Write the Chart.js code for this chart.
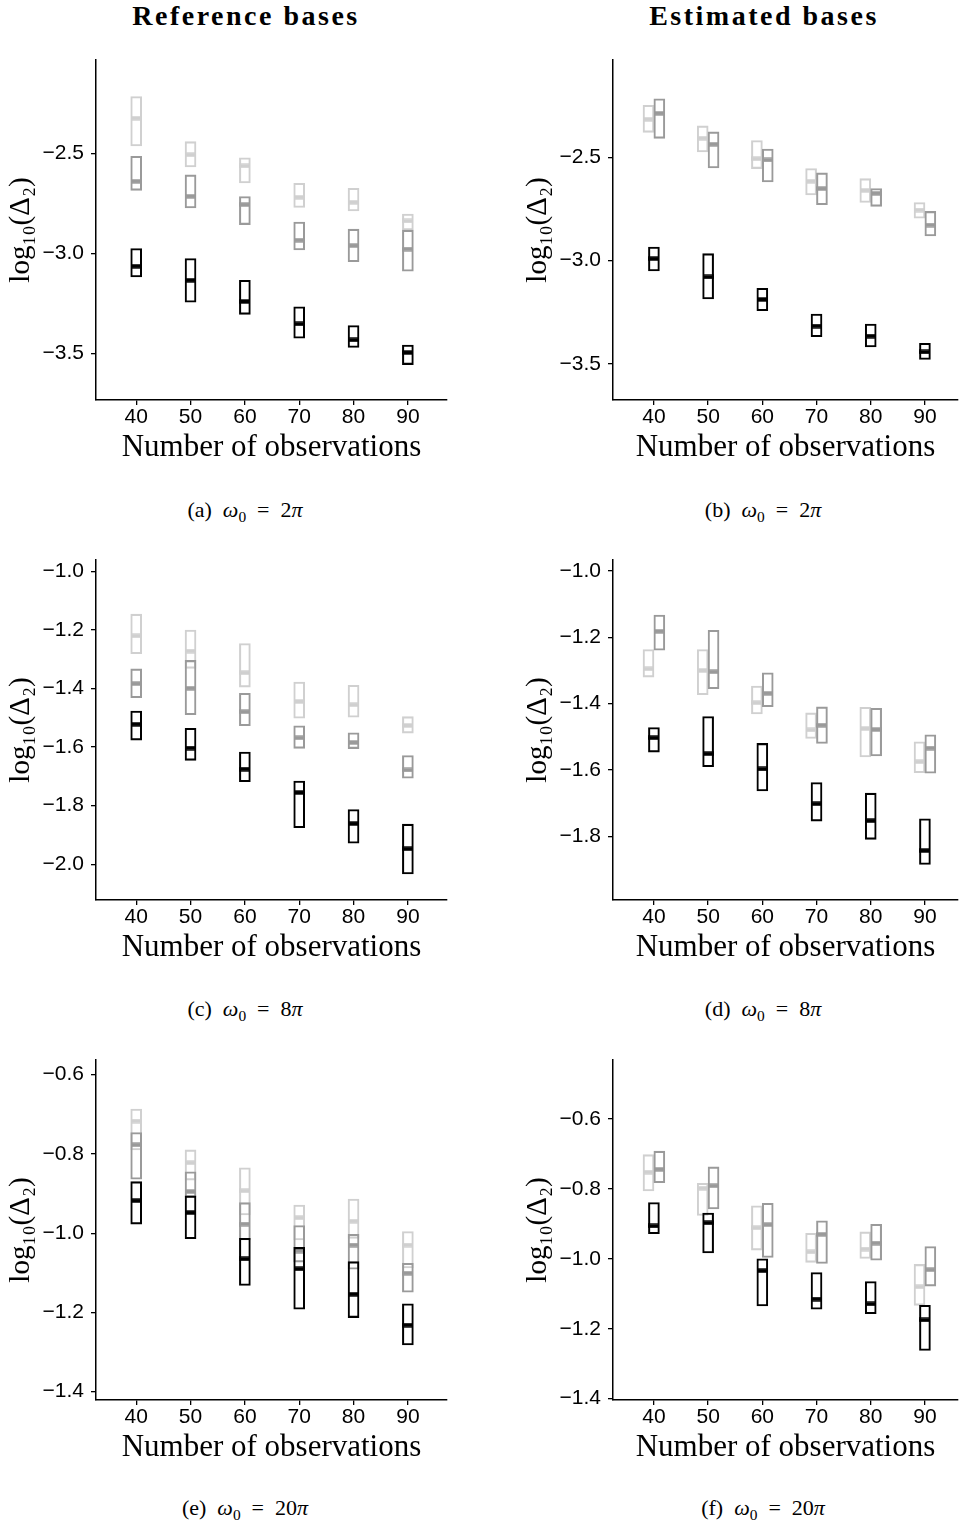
<!DOCTYPE html>
<html>
<head>
<meta charset="utf-8">
<script src="https://cdn.jsdelivr.net/npm/chart.js@4.4.1/dist/chart.umd.min.js"></script>
<style>
  body { margin: 0; background: #fff; width: 959px; height: 1524px; position: relative; overflow: hidden;
         font-family: "Liberation Serif", serif; color: #000; }
  canvas { position: absolute; }
  .head { position: absolute; top: 0; line-height: 32px; font-size: 28px; font-weight: bold;
          letter-spacing: 2.5px; transform: translateX(-50%); white-space: nowrap; }
  .cap { position: absolute; line-height: 24px; font-size: 22px; transform: translateX(-50%); white-space: nowrap; }
  .cap sub { font-size: 70%; vertical-align: -0.3em; line-height: 0; }
</style>
</head>
<body>

<div class="head" style="left:246px">Reference bases</div>
<div class="head" style="left:764px">Estimated bases</div>

<canvas id="pa" width="460" height="420" style="left:0;top:50px"></canvas>
<canvas id="pb" width="442" height="420" style="left:517px;top:50px"></canvas>
<canvas id="pc" width="460" height="420" style="left:0;top:550px"></canvas>
<canvas id="pd" width="442" height="420" style="left:517px;top:550px"></canvas>
<canvas id="pe" width="460" height="420" style="left:0;top:1050px"></canvas>
<canvas id="pf" width="442" height="420" style="left:517px;top:1050px"></canvas>

<div class="cap" style="left:245px;top:498px">(a)&nbsp; <i>ω</i><sub>0</sub>&nbsp; =&nbsp; 2<i>π</i></div>
<div class="cap" style="left:763px;top:498px">(b)&nbsp; <i>ω</i><sub>0</sub>&nbsp; =&nbsp; 2<i>π</i></div>
<div class="cap" style="left:245px;top:997px">(c)&nbsp; <i>ω</i><sub>0</sub>&nbsp; =&nbsp; 8<i>π</i></div>
<div class="cap" style="left:763px;top:997px">(d)&nbsp; <i>ω</i><sub>0</sub>&nbsp; =&nbsp; 8<i>π</i></div>
<div class="cap" style="left:245px;top:1496px">(e)&nbsp; <i>ω</i><sub>0</sub>&nbsp; =&nbsp; 20<i>π</i></div>
<div class="cap" style="left:763px;top:1496px">(f)&nbsp; <i>ω</i><sub>0</sub>&nbsp; =&nbsp; 20<i>π</i></div>

<script>
// number of observations (x categories)
const obs = [40, 50, 60, 70, 80, 90];

// y tick labels
const ticksAB = [-3.5, -3.0, -2.5];
const ticksC = [-2.0, -1.8, -1.6, -1.4, -1.2, -1.0];
const ticksD = [-1.8, -1.6, -1.4, -1.2, -1.0];
const ticksEF = [-1.4, -1.2, -1.0, -0.8, -0.6];

// (a) reference bases, w0 = 2pi
const aLightHi  = [-2.217, -2.442, -2.522, -2.650, -2.675, -2.803];
const aLightMed = [-2.325, -2.507, -2.563, -2.720, -2.745, -2.838];
const aLightLo  = [-2.463, -2.568, -2.648, -2.770, -2.788, -2.883];
const aMidHi    = [-2.515, -2.608, -2.716, -2.843, -2.879, -2.884];
const aMidMed   = [-2.640, -2.715, -2.756, -2.934, -2.961, -2.978];
const aMidLo    = [-2.685, -2.773, -2.856, -2.983, -3.041, -3.089];
const aDarkHi   = [-2.976, -3.026, -3.134, -3.267, -3.360, -3.458];
const aDarkMed  = [-3.064, -3.134, -3.240, -3.352, -3.432, -3.495];
const aDarkLo   = [-3.117, -3.244, -3.304, -3.423, -3.470, -3.555];

// (b) estimated bases, w0 = 2pi
const bLightHi  = [-2.246, -2.346, -2.417, -2.553, -2.602, -2.718];
const bLightMed = [-2.314, -2.406, -2.505, -2.615, -2.659, -2.754];
const bLightLo  = [-2.377, -2.472, -2.553, -2.681, -2.717, -2.794];
const bMidHi    = [-2.214, -2.375, -2.458, -2.574, -2.650, -2.761];
const bMidMed   = [-2.285, -2.435, -2.511, -2.650, -2.673, -2.827];
const bMidLo    = [-2.406, -2.550, -2.618, -2.728, -2.736, -2.880];
const bDarkHi   = [-2.934, -2.966, -3.134, -3.259, -3.307, -3.401];
const bDarkMed  = [-2.990, -3.079, -3.188, -3.317, -3.366, -3.443];
const bDarkLo   = [-3.050, -3.186, -3.243, -3.369, -3.419, -3.479];

// (c) reference bases, w0 = 8pi
const cLightHi  = [-1.146, -1.200, -1.246, -1.378, -1.389, -1.496];
const cLightMed = [-1.220, -1.272, -1.346, -1.444, -1.455, -1.526];
const cLightLo  = [-1.281, -1.331, -1.395, -1.501, -1.498, -1.552];
const cMidHi    = [-1.333, -1.304, -1.416, -1.527, -1.551, -1.629];
const cMidMed   = [-1.383, -1.399, -1.479, -1.568, -1.584, -1.678];
const cMidLo    = [-1.431, -1.489, -1.527, -1.604, -1.605, -1.706];
const cDarkHi   = [-1.477, -1.536, -1.617, -1.716, -1.813, -1.863];
const cDarkMed  = [-1.522, -1.603, -1.675, -1.755, -1.861, -1.947];
const cDarkLo   = [-1.576, -1.645, -1.718, -1.875, -1.928, -2.033];

// (d) estimated bases, w0 = 8pi
const dLightHi  = [-1.237, -1.237, -1.347, -1.428, -1.411, -1.515];
const dLightMed = [-1.295, -1.300, -1.397, -1.479, -1.475, -1.575];
const dLightLo  = [-1.320, -1.373, -1.431, -1.505, -1.561, -1.608];
const dMidHi    = [-1.133, -1.179, -1.307, -1.410, -1.414, -1.494];
const dMidMed   = [-1.182, -1.304, -1.369, -1.465, -1.478, -1.534];
const dMidLo    = [-1.239, -1.355, -1.409, -1.520, -1.558, -1.610];
const dDarkHi   = [-1.472, -1.439, -1.520, -1.638, -1.670, -1.747];
const dDarkMed  = [-1.503, -1.551, -1.597, -1.702, -1.753, -1.843];
const dDarkLo   = [-1.546, -1.590, -1.663, -1.754, -1.809, -1.885];

// (e) reference bases, w0 = 20pi
const eLightHi  = [-0.687, -0.790, -0.835, -0.929, -0.914, -0.996];
const eLightMed = [-0.717, -0.822, -0.893, -0.961, -0.970, -1.030];
const eLightLo  = [-0.790, -0.866, -0.954, -1.017, -1.013, -1.088];
const eMidHi    = [-0.746, -0.845, -0.923, -0.981, -1.003, -1.076];
const eMidMed   = [-0.777, -0.895, -0.977, -1.045, -1.030, -1.101];
const eMidLo    = [-0.864, -0.909, -1.017, -1.073, -1.091, -1.149];
const eDarkHi   = [-0.870, -0.906, -1.013, -1.036, -1.072, -1.178];
const eDarkMed  = [-0.918, -0.948, -1.065, -1.090, -1.154, -1.232];
const eDarkLo   = [-0.977, -1.014, -1.132, -1.192, -1.213, -1.282];

// (f) estimated bases, w0 = 20pi
const fLightHi  = [-0.702, -0.784, -0.848, -0.927, -0.923, -1.016];
const fLightMed = [-0.752, -0.798, -0.911, -0.980, -0.972, -1.080];
const fLightLo  = [-0.806, -0.876, -0.975, -1.010, -0.999, -1.133];
const fMidHi    = [-0.692, -0.737, -0.841, -0.891, -0.901, -0.965];
const fMidMed   = [-0.744, -0.791, -0.902, -0.930, -0.955, -1.031];
const fMidLo    = [-0.782, -0.857, -0.996, -1.013, -1.004, -1.078];
const fDarkHi   = [-0.839, -0.869, -1.000, -1.039, -1.065, -1.133];
const fDarkMed  = [-0.906, -0.897, -1.034, -1.115, -1.129, -1.175];
const fDarkLo   = [-0.928, -0.983, -1.135, -1.144, -1.157, -1.262];

const LIGHT = '#d0d0d0', MID = '#9a9a9a', DARK = '#000000';

// thick median bar used as the point style
function medianMark(color) {
  const c = document.createElement('canvas');
  c.width = 11; c.height = 5;
  const g = c.getContext('2d');
  g.fillStyle = color;
  g.fillRect(0, 0.3, 11, 4.4);
  return c;
}

// one floating bar (the box) + one scatter point (the median) per series
function boxSeries(lo, med, hi, color, shift) {
  return [{
    type: 'bar',
    data: obs.map((n, i) => ({ x: n + shift, y: [lo[i], hi[i]] })),
    grouped: false,
    barThickness: 11,
    borderWidth: 1.4,
    borderSkipped: false,
    borderColor: color,
    backgroundColor: 'rgba(0,0,0,0)'
  }, {
    type: 'scatter',
    data: obs.map((n, i) => ({ x: n + shift, y: med[i] })),
    pointStyle: medianMark(color),
    pointRadius: 5.5,
    pointHoverRadius: 5.5
  }];
}

function makePanel(id, p) {
  const ctx = document.getElementById(id).getContext('2d');
  return new Chart(ctx, {
    type: 'bar',
    data: {
      datasets: [
        ...boxSeries(p.dark[0], p.dark[1], p.dark[2], DARK, 0),
        ...boxSeries(p.mid[0], p.mid[1], p.mid[2], MID, p.dodge),
        ...boxSeries(p.light[0], p.light[1], p.light[2], LIGHT, -p.dodge)
      ]
    },
    options: {
      responsive: false,
      animation: false,
      events: [],
      layout: { autoPadding: false, padding: { top: 10, right: p.padRight, bottom: 0, left: 0 } },
      plugins: { legend: { display: false }, tooltip: { enabled: false } },
      scales: {
        x: {
          type: 'linear',
          offset: false,
          min: p.xMin, max: p.xMax,
          afterBuildTicks: (s) => { s.ticks = obs.map(v => ({ value: v })); },
          afterFit: (s) => { s.height = 70; s.paddingLeft = 0; s.paddingRight = 0; },
          grid: { display: true, offset: false, drawOnChartArea: false, drawTicks: true, tickLength: 5, color: '#000', lineWidth: 1.3 },
          border: { display: true, color: '#000', width: 1.5 },
          ticks: { color: '#000', padding: 0, maxRotation: 0, font: { family: 'Liberation Sans', size: 21 }, callback: (v) => v },
          title: { display: true, text: 'Number of observations', color: '#000',
                   font: { family: 'Liberation Serif', size: 31 }, padding: { top: 0, bottom: 4 } }
        },
        y: {
          type: 'linear',
          min: p.yMin, max: p.yMax,
          afterBuildTicks: (s) => { s.ticks = p.yTicks.map(v => ({ value: v })); },
          afterFit: (s) => { s.width = 96; s.paddingTop = 0; s.paddingBottom = 0; },
          grid: { display: true, drawOnChartArea: false, drawTicks: true, tickLength: 5, color: '#000', lineWidth: 1.3 },
          border: { display: true, color: '#000', width: 1.5 },
          ticks: { color: '#000', padding: 7, font: { family: 'Liberation Sans', size: 21 },
                   callback: (v) => (v < 0 ? '\u2212' : '') + Math.abs(v).toFixed(1) },
          title: { display: true, text: 'log\u2081\u2080(\u0394\u2082)', color: '#000',
                   font: { family: 'Liberation Serif', size: 29 }, padding: { top: 4, bottom: 0 } }
        }
      }
    }
  });
}

// left column: reference bases, right column: estimated bases (dodged)
makePanel('pa', { xMin: 32.6, xMax: 97.2, yMin: -3.732, yMax: -2.034, yTicks: ticksAB, padRight: 13, dodge: 0,
  light: [aLightLo, aLightMed, aLightHi], mid: [aMidLo, aMidMed, aMidHi], dark: [aDarkLo, aDarkMed, aDarkHi] });
makePanel('pb', { xMin: 32.45, xMax: 96.1, yMin: -3.676, yMax: -2.026, yTicks: ticksAB, padRight: 1, dodge: 1,
  light: [bLightLo, bLightMed, bLightHi], mid: [bMidLo, bMidMed, bMidHi], dark: [bDarkLo, bDarkMed, bDarkHi] });
makePanel('pc', { xMin: 32.6, xMax: 97.2, yMin: -2.122, yMax: -0.961, yTicks: ticksC, padRight: 13, dodge: 0,
  light: [cLightLo, cLightMed, cLightHi], mid: [cMidLo, cMidMed, cMidHi], dark: [cDarkLo, cDarkMed, cDarkHi] });
makePanel('pd', { xMin: 32.45, xMax: 96.1, yMin: -1.992, yMax: -0.967, yTicks: ticksD, padRight: 1, dodge: 1,
  light: [dLightLo, dLightMed, dLightHi], mid: [dMidLo, dMidMed, dMidHi], dark: [dDarkLo, dDarkMed, dDarkHi] });
makePanel('pe', { xMin: 32.6, xMax: 97.2, yMin: -1.421, yMax: -0.563, yTicks: ticksEF, padRight: 13, dodge: 0,
  light: [eLightLo, eLightMed, eLightHi], mid: [eMidLo, eMidMed, eMidHi], dark: [eDarkLo, eDarkMed, eDarkHi] });
makePanel('pf', { xMin: 32.45, xMax: 96.1, yMin: -1.404, yMax: -0.431, yTicks: ticksEF, padRight: 1, dodge: 1,
  light: [fLightLo, fLightMed, fLightHi], mid: [fMidLo, fMidMed, fMidHi], dark: [fDarkLo, fDarkMed, fDarkHi] });
</script>
</body>
</html>
